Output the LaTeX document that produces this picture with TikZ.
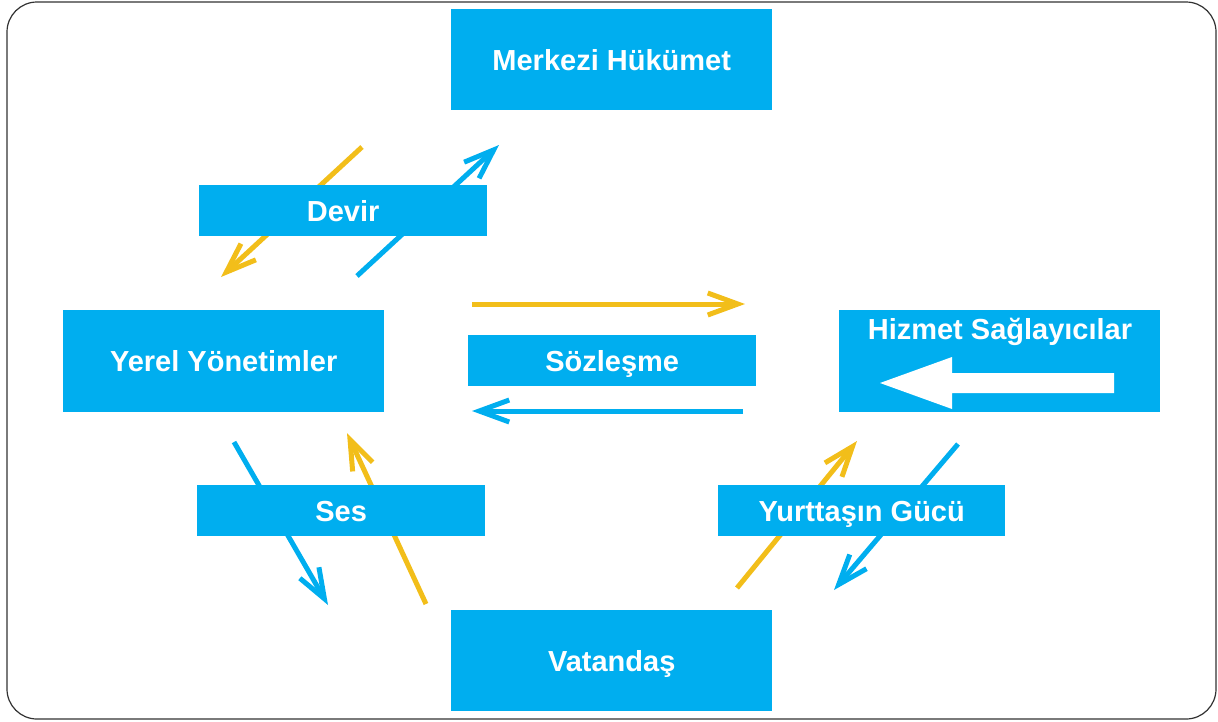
\documentclass[tikz,border=0pt]{standalone}
\usepackage{fontspec}
\setmainfont{Liberation Sans}
\usetikzlibrary{arrows.meta}
\definecolor{boxblue}{RGB}{0,174,239}
\definecolor{arrblue}{RGB}{0,174,239}
\definecolor{arryellow}{RGB}{242,190,26}
\definecolor{framegray}{RGB}{50,50,50}
\begin{document}
\begin{tikzpicture}[x=1pt,y=-1pt,
  lblfont/.style={text=white,font=\bfseries\fontsize{29}{32}\selectfont,text height=20.8pt,text depth=0pt},
  lbl/.style={fill=boxblue,lblfont,inner sep=0pt,anchor=north west},
  flow/.style={line width=5pt,-{Straight Barb[length=30pt,width=22pt,line width=5pt]}},
  yflow/.style={flow,draw=arryellow},
  bflow/.style={flow,draw=arrblue}]
\useasboundingbox (0,0) rectangle (1218,721);
\draw[framegray,line width=1.2pt,rounded corners=30pt] (7,2) rectangle (1216,719);
% arrow end points
\coordinate (dy1) at (362,147); \coordinate (dy2) at (221,277);
\coordinate (db1) at (357,276); \coordinate (db2) at (499,145);
\coordinate (sy1) at (472,304); \coordinate (sy2) at (745,304);
\coordinate (sb1) at (743,411); \coordinate (sb2) at (472,411);
\coordinate (eb1) at (234,442); \coordinate (eb2) at (328,605);
\coordinate (ey1) at (426,604); \coordinate (ey2) at (347,433);
\coordinate (gy1) at (737,588); \coordinate (gy2) at (857,441);
\coordinate (gb1) at (958,444); \coordinate (gb2) at (834,590);
\draw[yflow] (dy1) -- (dy2);
\draw[bflow] (db1) -- (db2);
\draw[yflow] (sy1) -- (sy2);
\draw[bflow] (sb1) -- (sb2);
\draw[bflow] (eb1) -- (eb2);
\draw[yflow] (ey1) -- (ey2);
\draw[yflow] (gy1) -- (gy2);
\draw[bflow] (gb1) -- (gb2);
% boxes
\node[lbl,minimum width=321pt,minimum height=101pt] (mh) at (451,9) {Merkezi Hükümet};
\node[lbl,minimum width=288pt,minimum height=51pt] (dv) at (199,185) {Devir};
\node[lbl,minimum width=321pt,minimum height=102pt] (yy) at (63,310) {Yerel Yönetimler};
\node[lbl,minimum width=288pt,minimum height=51pt] (sz) at (468,335) {Sözleşme};
\node[fill=boxblue,minimum width=321pt,minimum height=102pt,inner sep=0pt,anchor=north west] (hs) at (839,310) {};
\node[lblfont,inner sep=0pt] (hst) at (1000,329) {Hizmet Sağlayıcılar};
\fill[white] (880,383) -- (952,357) -- (952,373) -- (1114,373) -- (1114,393) -- (952,393) -- (952,409) -- cycle;
\node[lbl,minimum width=288pt,minimum height=51pt] (se) at (197,485) {Ses};
\node[lbl,minimum width=287pt,minimum height=51pt] (yg) at (718,485) {Yurttaşın Gücü};
\node[lbl,minimum width=321pt,minimum height=101pt] (vt) at (451,610) {Vatandaş};
\end{tikzpicture}
\end{document}
